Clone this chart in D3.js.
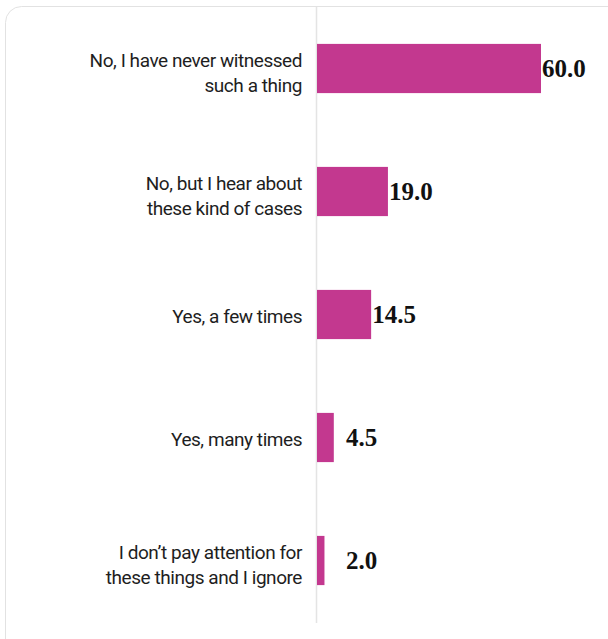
<!DOCTYPE html>
<html>
<head>
<meta charset="utf-8">
<script src="https://cdn.jsdelivr.net/npm/d3@7"></script>
<style>
  html, body { margin: 0; padding: 0; background: #fff; }
  svg { display: block; }
</style>
</head>
<body>
<script>
// Survey answers and their percentages
const categories = [
  ["No, I have never witnessed", "such a thing"],
  ["No, but I hear about", "these kind of cases"],
  ["Yes, a few times"],
  ["Yes, many times"],
  ["I don\u2019t pay attention for", "these things and I ignore"]
];
const values = [60.0, 19.0, 14.5, 4.5, 2.0];
const keys = categories.map(c => c.join(" "));

const W = 608, H = 639;
const svg = d3.select("body").append("svg").attr("width", W).attr("height", H);

// card frame
svg.append("rect")
  .attr("x", 5.5).attr("y", 6.5)
  .attr("width", 640).attr("height", 660)
  .attr("rx", 16).attr("ry", 16)
  .attr("fill", "#fff")
  .attr("stroke", "#e2e2e2")
  .attr("stroke-width", 1);

const x = d3.scaleLinear().domain([0, 60]).range([317, 541]);
const y = d3.scaleBand().domain(keys).range([7, 622]).paddingInner(0.6).paddingOuter(0.3);

// axis line
svg.append("line")
  .attr("x1", 316.5).attr("x2", 316.5)
  .attr("y1", 7).attr("y2", 623)
  .attr("stroke", "#e4e4e4").attr("stroke-width", 1.5);

// bars
svg.selectAll("rect.bar").data(values).join("rect")
  .attr("class", "bar")
  .attr("x", x(0))
  .attr("y", (d, i) => y(keys[i]))
  .attr("width", d => x(d) - x(0))
  .attr("height", y.bandwidth())
  .attr("fill", "#c3388f");

// value labels
svg.selectAll("text.val").data(values).join("text")
  .attr("class", "val")
  .attr("x", d => Math.max(x(d) + 1, x(0) + 29))
  .attr("y", (d, i) => y(keys[i]) + y.bandwidth() / 2)
  .attr("dy", "0.34em")
  .attr("font-family", "'Liberation Serif', 'Times New Roman', serif")
  .attr("font-weight", "bold")
  .attr("font-size", 25)
  .attr("fill", "#111")
  .text(d => d.toFixed(1));

// category labels
const lineH = 25, fs = 19;
const g = svg.selectAll("text.cat").data(categories).join("text")
  .attr("class", "cat")
  .attr("text-anchor", "end")
  .attr("font-family", "Roboto, 'Noto Sans', sans-serif")
  .attr("font-size", fs)
  .attr("letter-spacing", "-0.45")
  .attr("fill", "#1e1e1e");
g.each(function(lines, i) {
  const n = lines.length;
  const cy = y(keys[i]) + y.bandwidth() / 2 + 1.5 + (n - 1) * 3;
  const base0 = cy + fs * 0.355 - (n - 1) * lineH / 2;
  d3.select(this).selectAll("tspan").data(lines).join("tspan")
    .attr("x", 302)
    .attr("y", (d, j) => base0 + j * lineH)
    .text(d => d);
});
</script>
</body>
</html>
